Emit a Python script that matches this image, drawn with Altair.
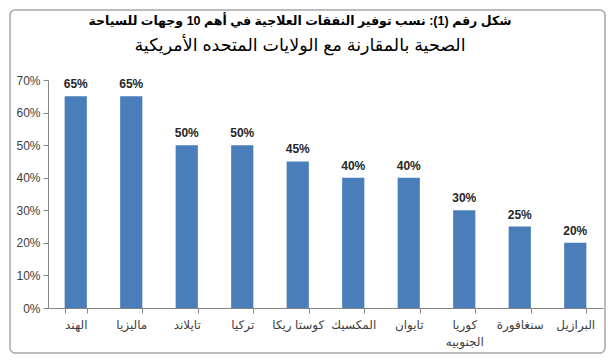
import altair as alt
import pandas as pd

categories = ["الهند", "ماليزيا", "تايلاند", "تركيا", "كوستا ريكا", "المكسيك", "تايوان", "كوريا|الجنوبيه", "سنغافورة", "البرازيل"]
values = [0.65, 0.65, 0.50, 0.50, 0.45, 0.40, 0.40, 0.30, 0.25, 0.20]
y_ticks = [0, 0.1, 0.2, 0.3, 0.4, 0.5, 0.6, 0.7]
title_line1 = "شكل رقم (1): نسب توفير النفقات العلاجية في أهم 10 وجهات للسياحة"
title_line2 = "الصحية بالمقارنة مع الولايات المتحده الأمريكية"

df = pd.DataFrame({"cat": categories, "val": values})
FONT = "Liberation Sans, DejaVu Sans, sans-serif"

base = alt.Chart(df).encode(
    x=alt.X("cat:N", sort=categories, title=None,
            scale=alt.Scale(paddingInner=0.6, paddingOuter=0.3),
            axis=alt.Axis(labelAngle=0, tickBand="extent", labelExpr="split(datum.label, '|')",
                          labelFont=FONT, labelFontSize=12, labelColor="#404040",
                          labelPadding=6, tickSize=5, domainColor="#868686", tickColor="#868686",
                          labelLineHeight=17)),
    y=alt.Y("val:Q", title=None, scale=alt.Scale(domain=[0, 0.7], nice=False),
            axis=alt.Axis(values=y_ticks, format=".0%", grid=False, labelFont=FONT, labelFontSize=12,
                          labelColor="#404040", tickSize=5, domainColor="#868686", tickColor="#868686",
                          labelPadding=3)),
)

bars = base.mark_bar(color="#4A7EBB")
labels = base.mark_text(baseline="bottom", dy=-5, font=FONT, fontSize=12, fontWeight="bold",
                        color="#262626").encode(text=alt.Text("val:Q", format=".0%"))

one = pd.DataFrame({"a": [0]})
frame = alt.Chart(one).mark_rect(
    fill=None, stroke="#A6A6A6", strokeWidth=1.5, cornerRadius=5
).encode(x=alt.value(-38), x2=alt.value(557), y=alt.value(-70), y2=alt.value(273))

t1 = alt.Chart(pd.DataFrame({"t": [title_line1]})).mark_text(
    font=FONT, fontSize=12.5, fontWeight="bold", color="#000000", align="center", baseline="middle"
).encode(x=alt.value(252), y=alt.value(-59), text="t:N")
t2 = alt.Chart(pd.DataFrame({"t": [title_line2]})).mark_text(
    font=FONT, fontSize=17.5, color="#000000", align="center", baseline="middle"
).encode(x=alt.value(252), y=alt.value(-34), text="t:N")

chart = alt.layer(frame, t1, t2, bars, labels).properties(
    width=555, height=228,
    padding={"left": 40, "top": 72, "right": 4, "bottom": 47},
    autosize=alt.AutoSizeParams(type="none"),
).configure_view(stroke=None)

chart.save("out.html", embed_options={"renderer": "svg", "actions": False})
